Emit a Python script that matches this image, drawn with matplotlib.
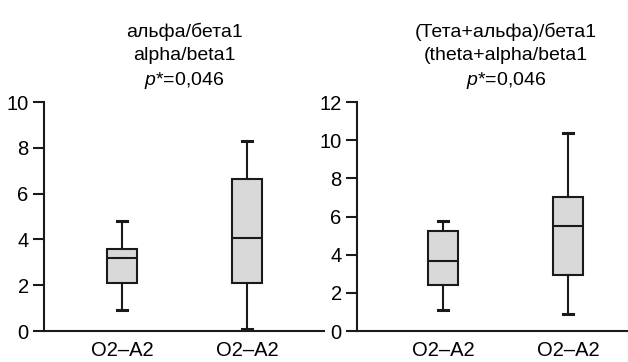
import matplotlib
matplotlib.use("Agg")
import matplotlib.pyplot as plt

font = 'Liberation Sans'
plt.rcParams['font.family'] = [font, 'DejaVu Sans']
plt.rcParams['mathtext.fontset'] = 'custom'
plt.rcParams['mathtext.it'] = font + ':italic'
plt.rcParams['mathtext.rm'] = font

labels = ['O2–A2', 'O2–A2']

# left panel: alpha/beta1
left_lo = [0.92, 0.07]
left_q1 = [2.11, 2.11]
left_med = [3.18, 4.05]
left_q3 = [3.57, 6.65]
left_hi = [4.82, 8.28]

# right panel: (theta+alpha)/beta1
right_lo = [1.09, 0.89]
right_q1 = [2.43, 2.92]
right_med = [3.66, 5.52]
right_q3 = [5.26, 7.03]
right_hi = [5.75, 10.38]

edge = '#1a1a1a'
fill = '#d9d9d9'


def stats(lo, q1, med, q3, hi):
    return [dict(whislo=lo[i], q1=q1[i], med=med[i], q3=q3[i], whishi=hi[i],
                 fliers=[], label=labels[i]) for i in range(len(lo))]


def draw(ax, st, ymax, yticks, xlim, title):
    ax.bxp(st, positions=[1, 2], widths=0.24, patch_artist=True, showfliers=False,
           boxprops=dict(facecolor=fill, edgecolor=edge, linewidth=1.5),
           medianprops=dict(color=edge, linewidth=1.5),
           whiskerprops=dict(color=edge, linewidth=1.5),
           capprops=dict(color=edge, linewidth=2.2),
           capwidths=0.08)
    for art in ax.lines:
        art.set_clip_on(False)
    ax.set_ylim(0, ymax)
    ax.set_xlim(*xlim)
    ax.set_yticks(yticks)
    ax.spines['top'].set_visible(False)
    ax.spines['right'].set_visible(False)
    for s in ('left', 'bottom'):
        ax.spines[s].set_linewidth(1.5)
        ax.spines[s].set_color(edge)
    ax.tick_params(axis='y', length=8, width=1.5, color=edge, labelsize=14.5, pad=3)
    ax.tick_params(axis='x', length=0, labelsize=14.5, pad=7)
    ax.set_title(title, fontsize=14, linespacing=1.45, pad=12)


fig = plt.figure(figsize=(6.28, 3.62), dpi=100)
ax1 = fig.add_axes([0.070, 0.0856, 0.446, 0.6326])
ax2 = fig.add_axes([0.5685, 0.0856, 0.475, 0.6326])

draw(ax1, stats(left_lo, left_q1, left_med, left_q3, left_hi), 10, [0, 2, 4, 6, 8, 10],
     (0.376, 2.616), 'альфа/бета1\nalpha/beta1\n$p$*=0,046')
draw(ax2, stats(right_lo, right_q1, right_med, right_q3, right_hi), 12, [0, 2, 4, 6, 8, 10, 12],
     (0.312, 2.696), '(Тета+альфа)/бета1\n(theta+alpha/beta1\n$p$*=0,046')

fig.savefig('out.png', dpi=100)
